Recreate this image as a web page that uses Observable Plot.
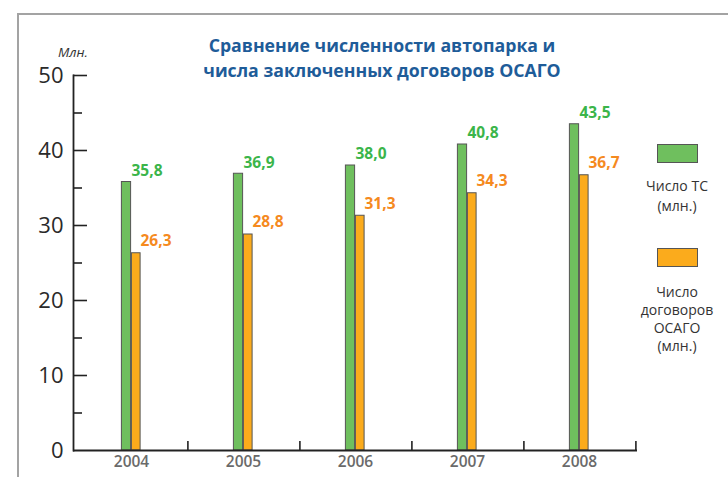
<!DOCTYPE html>
<html>
<head>
<meta charset="utf-8">
<script src="https://cdn.jsdelivr.net/npm/d3@7"></script>
<script src="https://cdn.jsdelivr.net/npm/@observablehq/plot@0.6"></script>
<style>
  html, body { margin: 0; padding: 0; background: #fff; }
  #wrap { position: relative; width: 728px; height: 477px; overflow: hidden; font-family: "Open Sans", sans-serif; }
  #frame { position: absolute; left: 17px; top: 13px; width: 720px; height: 470px; border-top: 2px solid #a3a3a3; border-left: 2px solid #a3a3a3; }
  #chart { position: absolute; left: 0; top: 0; }
  #title { position: absolute; left: 182px; top: 33px; width: 400px; text-align: center; font-size: 17.7px; font-weight: 700; line-height: 25px; color: #1e5c99; }
  #unit { position: absolute; left: 43px; top: 46px; width: 60px; text-align: center; font-size: 13.5px; font-style: italic; line-height: 13px; color: #333; }
  .sw { position: absolute; left: 657px; width: 39px; height: 17px; border: 1px solid #555; }
  .lg { position: absolute; left: 627px; width: 100px; text-align: center; font-size: 14px; color: #333; }
</style>
</head>
<body>
<div id="wrap">
  <div id="frame"></div>
  <div id="chart"></div>
  <div id="title"></div>
  <div id="unit"></div>
  <div id="sw1" class="sw" style="top:144px"></div>
  <div id="lg1" class="lg" style="top:176px; line-height:19.5px"></div>
  <div id="sw2" class="sw" style="top:248px"></div>
  <div id="lg2" class="lg" style="top:283px; line-height:18px"></div>
</div>
<script>
const years = ["2004", "2005", "2006", "2007", "2008"];
const vehicles = [35.8, 36.9, 38.0, 40.8, 43.5];   // Число ТС (млн.)
const contracts = [26.3, 28.8, 31.3, 34.3, 36.7];  // Число договоров ОСАГО (млн.)
const majorTicks = [0, 10, 20, 30, 40, 50];
const minorTicks = [5, 15, 25, 35, 45];
const titleLines = ["Сравнение численности автопарка и", "числа заключенных договоров ОСАГО"];
const unitLabel = "Млн.";
const legend1 = ["Число ТС", "(млн.)"];
const legend2 = ["Число", "договоров", "ОСАГО", "(млн.)"];

const GREEN = "#6fbf5e", ORANGE = "#fbab1c";
const GREEN_TXT = "#3bb54a", ORANGE_TXT = "#f58a1f";

const W = 728, H = 477, mL = 73, mR = 91, mT = 75, mB = 27;
const bw = (W - mL - mR) / years.length;
const fw = W - mL - mR, fh = H - mT - mB;
const fmt = v => v.toFixed(1).replace(".", ",");
const data = years.map((y, i) => ({year: y, tc: vehicles[i], osago: contracts[i]}));

const plot = Plot.plot({
  width: W, height: H,
  marginLeft: mL, marginRight: mR, marginTop: mT, marginBottom: mB,
  style: {background: "transparent", fontFamily: "'Open Sans', sans-serif", overflow: "visible"},
  x: {domain: years, padding: 0, axis: null, label: null},
  y: {domain: [0, 50], axis: null, label: null},
  marks: [
    Plot.barY(data, {x: "year", y: "tc", fill: GREEN, stroke: "#555", strokeWidth: 1, insetLeft: bw / 2 - 10, insetRight: bw / 2}),
    Plot.barY(data, {x: "year", y: "osago", fill: ORANGE, stroke: "#555", strokeWidth: 1, insetLeft: bw / 2, insetRight: bw / 2 - 9.5}),
    Plot.text(data, {x: "year", y: "tc", text: d => fmt(d.tc), textAnchor: "start", dx: 0, dy: -11, fill: GREEN_TXT, fontWeight: 700, fontSize: 15.5}),
    Plot.text(data, {x: "year", y: "osago", text: d => fmt(d.osago), textAnchor: "start", dx: 9, dy: -12, fill: ORANGE_TXT, fontWeight: 700, fontSize: 15.5}),
    Plot.ruleY(majorTicks.filter(d => d > 0), {stroke: "#222", strokeWidth: 1.6, insetRight: fw - 14}),
    Plot.ruleY(minorTicks, {stroke: "#222", strokeWidth: 1.6, insetRight: fw - 9}),
    Plot.tickX(years, {x: d => d, dx: bw / 2, stroke: "#222", strokeWidth: 1.6, insetTop: fh - 9}),
    Plot.ruleY([0], {stroke: "#222", strokeWidth: 1.8}),
    Plot.frame({anchor: "left", stroke: "#222", strokeWidth: 1.8}),
    Plot.axisY({ticks: majorTicks, tickSize: 0, tickPadding: 10, fontSize: 22, fill: "#2a2a2a", tickFormat: d => String(d), label: null}),
    Plot.axisX({tickSize: 0, tickPadding: 5, fontSize: 15.5, fontWeight: 600, fill: "#6a6a6a", label: null})
  ]
});
document.getElementById("chart").appendChild(plot);

document.getElementById("title").innerHTML = titleLines.join("<br>");
document.getElementById("unit").textContent = unitLabel;
document.getElementById("sw1").style.background = GREEN;
document.getElementById("sw2").style.background = ORANGE;
document.getElementById("lg1").innerHTML = legend1.join("<br>");
document.getElementById("lg2").innerHTML = legend2.join("<br>");
</script>
</body>
</html>
